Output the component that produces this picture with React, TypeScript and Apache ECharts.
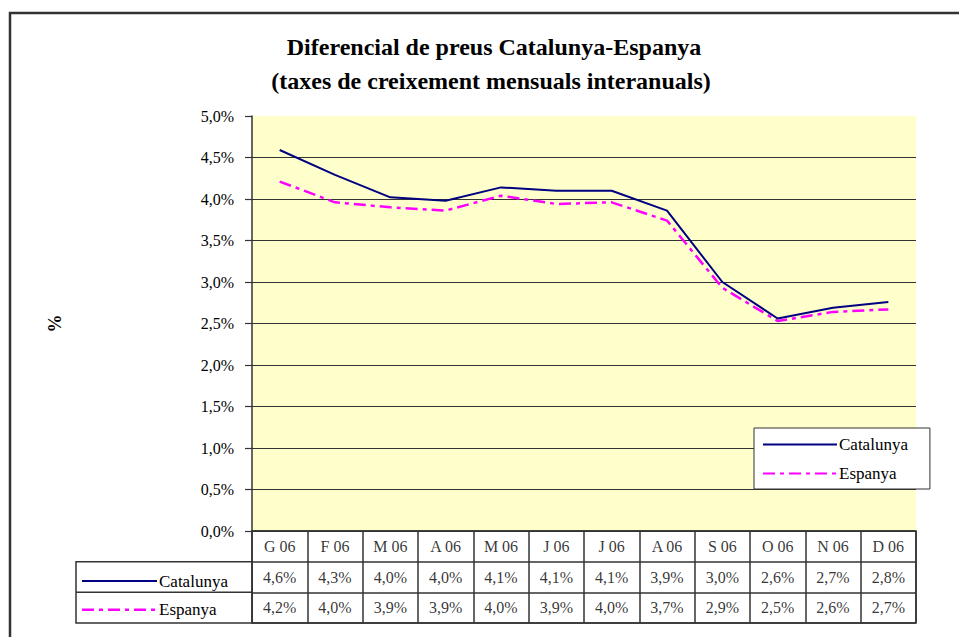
import React, { useEffect, useRef } from "react";
import * as echarts from "echarts";

const categories = ["G 06", "F 06", "M 06", "A 06", "M 06", "J 06", "J 06", "A 06", "S 06", "O 06", "N 06", "D 06"];
const catalunya = [4.59, 4.29, 4.02, 3.98, 4.14, 4.1, 4.1, 3.86, 3.0, 2.56, 2.69, 2.76];
const espanya = [4.21, 3.96, 3.9, 3.86, 4.04, 3.94, 3.96, 3.74, 2.93, 2.53, 2.64, 2.67];
const seriesNames = ["Catalunya", "Espanya"];
const titleLines = ["Diferencial de preus Catalunya-Espanya", "(taxes de creixement mensuals interanuals)"];
const tableRows = ["header", "Catalunya", "Espanya"];

const SERIF = "'Liberation Serif', 'Times New Roman', serif";
const NAVY = "#000080";
const MAGENTA = "#FF00FF";
const DASH = [12, 5, 4, 5];
const GRIDC = "#333333";

const fmt = (v: number) => v.toFixed(1).replace(".", ",") + "%";

export default function App() {
  const ref = useRef<HTMLDivElement>(null);
  useEffect(() => {
    if (!ref.current) return;
    const chart = echarts.init(ref.current, undefined, { renderer: "svg" });

    const plotLeft = 252, plotTop = 116, plotW = 664, plotH = 415;
    const tabTop = plotTop + plotH, tabH = 92;
    const rowH = tabH / 3;

    const tableData: any[] = [];
    categories.forEach((c, i) => {
      tableData.push({ name: c, value: [i, 0] });
      tableData.push({ name: fmt(catalunya[i]), value: [i, 1] });
      tableData.push({ name: fmt(espanya[i]), value: [i, 2] });
    });

    const r1 = tabTop + rowH, r2 = tabTop + 2 * rowH, r3 = tabTop + tabH;

    chart.setOption({
      animation: false,
      backgroundColor: "#ffffff",
      textStyle: { fontFamily: SERIF },
      grid: [
        { left: plotLeft, top: plotTop, width: plotW, height: plotH, show: true, backgroundColor: "#FFFFCC", borderWidth: 0 },
        { left: plotLeft, top: tabTop, width: plotW, height: tabH, show: true, backgroundColor: "#ffffff", borderColor: GRIDC, borderWidth: 1.5 },
      ],
      xAxis: [
        {
          type: "category", gridIndex: 0, data: categories, boundaryGap: true,
          axisLine: { show: false }, axisTick: { show: false }, axisLabel: { show: false }, splitLine: { show: false },
        },
        {
          type: "category", gridIndex: 1, data: categories, boundaryGap: true,
          axisLine: { show: false }, axisTick: { show: false }, axisLabel: { show: false },
          splitLine: { show: true, interval: 0, lineStyle: { color: GRIDC, width: 1.5 } },
        },
      ],
      yAxis: [
        {
          type: "value", gridIndex: 0, min: 0, max: 5, interval: 0.5,
          name: "%", nameLocation: "middle", nameRotate: 90, nameGap: 188,
          nameTextStyle: { fontFamily: SERIF, fontWeight: "bold", fontSize: 18, color: "#000" },
          axisLine: { show: true, lineStyle: { color: GRIDC, width: 1.5 } },
          axisTick: { show: true, length: 7, lineStyle: { color: GRIDC, width: 1.2 } },
          axisLabel: { formatter: (v: number) => fmt(v), margin: 18, fontSize: 16, color: "#000", fontFamily: SERIF },
          splitLine: { show: true, showMaxLine: false, lineStyle: { color: GRIDC, width: 1.2 } },
        },
        {
          type: "category", gridIndex: 1, data: tableRows, inverse: true, boundaryGap: true,
          axisLine: { show: false }, axisTick: { show: false }, axisLabel: { show: false },
          splitLine: { show: true, interval: 0, lineStyle: { color: GRIDC, width: 1.5 } },
        },
      ],
      legend: {
        left: 754, top: 428, orient: "vertical",
        data: seriesNames,
        padding: [8, 22, 7, 8], itemGap: 12, itemWidth: 74, itemHeight: 14,
        itemStyle: { opacity: 0 },
        backgroundColor: "#ffffff", borderColor: "#333", borderWidth: 1, borderRadius: 0,
        textStyle: { fontFamily: SERIF, fontSize: 17, color: "#000", padding: [0, 0, 0, -3] },
      },
      series: [
        {
          name: seriesNames[0], type: "line", xAxisIndex: 0, yAxisIndex: 0, data: catalunya,
          symbol: "none", lineStyle: { color: NAVY, width: 2 }, itemStyle: { color: NAVY }, z: 3,
        },
        {
          name: seriesNames[1], type: "line", xAxisIndex: 0, yAxisIndex: 0, data: espanya,
          symbol: "none", lineStyle: { color: MAGENTA, width: 2.5, type: DASH }, itemStyle: { color: MAGENTA }, z: 2,
        },
        {
          type: "scatter", xAxisIndex: 1, yAxisIndex: 1, data: tableData, symbolSize: 0, silent: true,
          label: { show: true, position: "inside", formatter: (p: any) => p.name, fontFamily: SERIF, fontSize: 16, color: "#000" },
        },
      ],
      graphic: [
        { type: "rect", shape: { x: 10, y: 13, width: 1200, height: 900 }, style: { fill: "none", stroke: "#333", lineWidth: 2.5 }, silent: true },
        { type: "text", x: 494, y: 47, style: { text: titleLines[0], font: `bold 24px ${SERIF}`, fill: "#000", textAlign: "center", textVerticalAlign: "middle" } },
        { type: "text", x: 491, y: 81, style: { text: titleLines[1], font: `bold 24px ${SERIF}`, fill: "#000", textAlign: "center", textVerticalAlign: "middle" } },
        { type: "rect", shape: { x: 76, y: r1, width: plotLeft - 76, height: r3 - r1 }, style: { fill: "#fff", stroke: GRIDC, lineWidth: 1.5 } },
        { type: "line", shape: { x1: 76, y1: r2, x2: plotLeft, y2: r2 }, style: { stroke: GRIDC, lineWidth: 1.5 } },
        { type: "line", shape: { x1: 82, y1: (r1 + r2) / 2 + 4, x2: 157, y2: (r1 + r2) / 2 + 4 }, style: { stroke: NAVY, lineWidth: 2 } },
        { type: "line", shape: { x1: 82, y1: (r2 + r3) / 2 + 2, x2: 157, y2: (r2 + r3) / 2 + 2 }, style: { stroke: MAGENTA, lineWidth: 2.5, lineDash: DASH } },
        { type: "text", x: 159, y: (r1 + r2) / 2 + 4, style: { text: seriesNames[0], font: `17px ${SERIF}`, fill: "#000", textVerticalAlign: "middle" } },
        { type: "text", x: 159, y: (r2 + r3) / 2 + 2, style: { text: seriesNames[1], font: `17px ${SERIF}`, fill: "#000", textVerticalAlign: "middle" } },
      ],
    });
    return () => chart.dispose();
  }, []);
  return <div ref={ref} style={{ position: "fixed", left: 0, top: 0, width: 959, height: 637 }} />;
}
